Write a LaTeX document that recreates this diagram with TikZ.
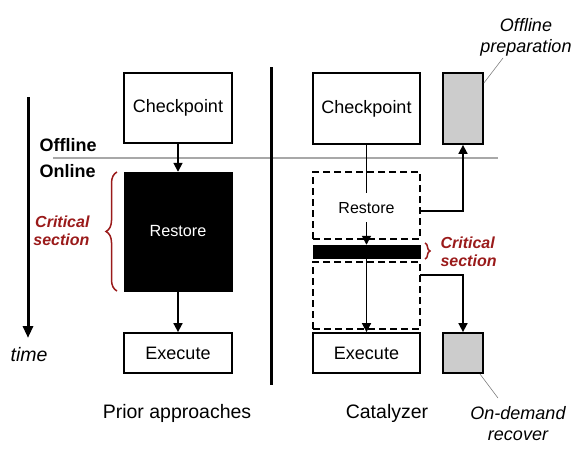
\documentclass[tikz,border=0pt]{standalone}
\usepackage{fontspec}
\setmainfont{Liberation Sans}
\usetikzlibrary{arrows.meta,decorations.pathreplacing}
\definecolor{critred}{HTML}{9A1A1A}
\definecolor{sepgray}{HTML}{A8A8A8}
\definecolor{boxgray}{HTML}{CCCCCC}
\begin{document}
\begin{tikzpicture}[x=1pt,y=-1pt,
  stagebox/.style={draw=black,line width=1.8pt,fill=white,inner sep=0pt},
  graybox/.style={draw=black,line width=1.8pt,fill=boxgray,inner sep=0pt},
  dashbox/.style={draw=black,line width=1.7pt,dash pattern=on 7pt off 4pt,inner sep=0pt},
  blackbox/.style={draw=black,fill=black,inner sep=0pt},
  flow/.style={line width=1.7pt,-{Triangle[length=9pt,width=9pt]}},
  flowline/.style={line width=1.7pt},
  leader/.style={draw=gray,line width=0.6pt},
  crit/.style={text=critred,font=\fontsize{16}{18}\selectfont\bfseries\itshape,align=left},
  critbrace/.style={draw=critred,line width=1.5pt,decorate},
  lbl/.style={font=\fontsize{18}{20}\selectfont},
  title/.style={font=\fontsize{19.5}{22}\selectfont},
  note/.style={font=\fontsize{18}{21}\selectfont\itshape,align=center}
]
\useasboundingbox (0,0) rectangle (571,461);

% separator line offline/online
\coordinate (sepL) at (53,158);
\coordinate (sepR) at (498,158);
\draw[sepgray,line width=1.2pt] (sepL) -- (sepR);

% divider
\coordinate (divT) at (271,67);
\coordinate (divB) at (271,385);
\draw[line width=3pt] (divT) -- (divB);

% time arrow
\coordinate (timeT) at (28,97);
\coordinate (timeB) at (28,338);
\draw[line width=3pt,-{Triangle[length=12pt,width=10pt]}] (timeT) -- (timeB);
\node[font=\fontsize{19.5}{22}\selectfont\itshape] (timelbl) at (29,355) {time};

\node[font=\fontsize{18}{20}\selectfont\bfseries,anchor=west] (offl) at (36,145) {Offline};
\node[font=\fontsize{18}{20}\selectfont\bfseries,anchor=west] (onl) at (36,171) {Online};

% left column
\node[stagebox,minimum width=108pt,minimum height=70pt,lbl] (ckL) at (178,108) {Checkpoint};
\node[blackbox,minimum width=108pt,minimum height=119pt,text=white,font=\fontsize{16.2}{18}\selectfont] (rsL) at (178,231.5) {Restore};
\node[stagebox,minimum width=108pt,minimum height=40pt,lbl] (exL) at (178,353) {Execute};
\draw[flow] (ckL) -- (rsL);
\draw[flow] (rsL) -- (exL);
\node[title] (prior) at (177,413) {Prior approaches};

\coordinate (brLb) at (117,291);
\coordinate (brLt) at (117,172);
\draw[critbrace,decoration={brace,amplitude=11pt}] (brLb) -- (brLt);
\node[crit,anchor=east,align=right] (critL) at (93,231) {Critical\\section};

% right column
\node[stagebox,minimum width=107pt,minimum height=71pt,lbl] (ckR) at (366.5,108.5) {Checkpoint};
\node[graybox,minimum width=40pt,minimum height=71pt] (gT) at (463,108.5) {};
\node[dashbox,minimum width=107pt,minimum height=67pt] (dT) at (366.5,205.5) {};
\node[font=\fontsize{16}{18}\selectfont] (rsR) at (366.5,208) {Restore};
\node[blackbox,minimum width=107pt,minimum height=13pt] (bar) at (366.5,251.5) {};
\node[dashbox,minimum width=107pt,minimum height=67pt] (dB) at (366.5,295.5) {};
\node[stagebox,minimum width=107pt,minimum height=40pt,lbl] (exR) at (366.5,353) {Execute};
\node[graybox,minimum width=40pt,minimum height=40pt] (gB) at (463,353) {};
\node[title] (cat) at (387,413) {Catalyzer};

\coordinate (ckRend) at (366.5,193);
\coordinate (rsRbeg) at (366.5,222);
\draw[flowline] (ckR.south) -- (ckRend);
\draw[flow] (rsRbeg) -- (bar.north);
\draw[flow] (bar.south) -- (exR.north);

\coordinate (prepStart) at (420,211);
\draw[flow] (prepStart) -| (gT.south);
\coordinate (recStart) at (420,275);
\draw[flow] (recStart) -| (gB.north);

\coordinate (brRt) at (425,243);
\coordinate (brRb) at (425,259);
\draw[critbrace,decoration={brace,amplitude=5pt}] (brRt) -- (brRb);
\node[crit,anchor=west] (critR) at (437,251.5) {Critical\\section};

% notes
\node[note] (prep) at (526,37) {Offline\\preparation};
\coordinate (prepLead) at (503,58);
\draw[leader] (gT.east |- 0,83) -- (prepLead);
\node[note] (rec) at (518,424) {On-demand\\recover};
\coordinate (recLead) at (498,398);
\draw[leader] (480,374) -- (recLead);
\end{tikzpicture}
\end{document}
